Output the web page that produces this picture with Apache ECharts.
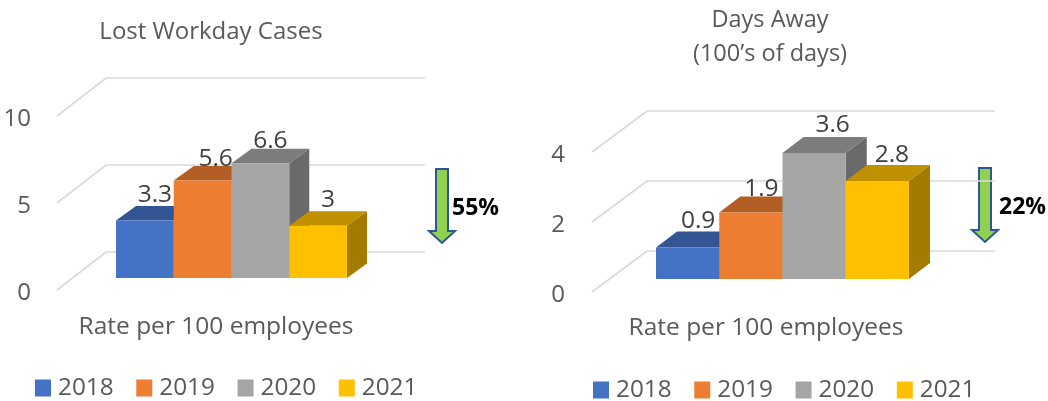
<!DOCTYPE html>
<html>
<head>
<meta charset="utf-8">
<script src="https://cdn.jsdelivr.net/npm/echarts@6/dist/echarts.min.js"></script>
<style>
  html, body { margin: 0; padding: 0; background: #fff; }
  #main { width: 1048px; height: 401px; }
</style>
</head>
<body>
<div id="main"></div>
<script type="text/javascript">
var years = ['2018', '2019', '2020', '2021'];
var lostCases = [3.3, 5.6, 6.6, 3];
var daysAway = [0.9, 1.9, 3.6, 2.8];
var lostTicks = [0, 5, 10];
var awayTicks = [0, 2, 4];

var font = '"Open Sans", sans-serif';
var front = ['#4472C4', '#ED7D31', '#A5A5A5', '#FFC000'];
var topFace = ['#335593', '#B25E25', '#7C7C7C', '#BF9000'];
var sideFace = ['#2B4A7F', '#985021', '#6A6A6A', '#A37B00'];

var series = [];

// back wall lines, slanted from the value axis then running along the back
function addWall(idx, ticks, s) {
    series.push({
        name: 'gridlines',
        type: 'custom',
        xAxisIndex: idx,
        yAxisIndex: idx,
        silent: true,
        data: ticks.map(function (t) { return [0, t]; }),
        renderItem: function (params, api) {
            var y = api.coord([0, api.value(1)])[1] - s.wallLift;
            return {
                type: 'polyline',
                shape: { points: [[s.wallX0, y], [s.wallX1, y - s.wallRise], [s.wallX2, y - s.wallRise]] },
                style: { fill: 'none', stroke: '#D9D9D9', lineWidth: 1.6 }
            };
        }
    });
}

// one fake-3d box per year
function addBars(idx, values, s) {
    values.forEach(function (v, i) {
        series.push({
            name: years[i],
            type: 'custom',
            xAxisIndex: idx,
            yAxisIndex: idx,
            itemStyle: { color: front[i] },
            data: [[i, v]],
            renderItem: function (params, api) {
                var c = api.coord([api.value(0), api.value(1)]);
                var w = api.size([1, 0])[0];
                var l = c[0] - w / 2, r = c[0] + w / 2;
                var t = c[1] - s.lift;
                var b = api.coord([api.value(0), 0])[1] - s.lift;
                var dx = s.depthX, dy = s.depthY;
                return {
                    type: 'group',
                    children: [
                        { type: 'polygon', shape: { points: [[r, t], [r + dx, t - dy], [r + dx, b - dy], [r, b]] }, style: { fill: sideFace[i] } },
                        { type: 'polygon', shape: { points: [[l, t], [l + dx, t - dy], [r + dx, t - dy], [r, t]] }, style: { fill: topFace[i] } },
                        { type: 'rect', shape: { x: l, y: t, width: w, height: b - t }, style: { fill: front[i] } },
                        {
                            type: 'text',
                            z2: 10,
                            style: {
                                x: c[0] + dx / 2 + s.nudge[i][0],
                                y: t - dy + s.nudge[i][1],
                                text: String(api.value(1)),
                                textAlign: 'center',
                                textVerticalAlign: 'middle',
                                fill: '#404040',
                                font: '24.5px ' + font
                            }
                        }
                    ]
                };
            }
        });
    });
}

// grids sit a little low so the tick labels line up, wallLift puts the lines back
var leftShape = {
    wallX0: 57, wallX1: 106, wallX2: 425, wallRise: 38, wallLift: 3,
    lift: 15, depthX: 20, depthY: 14.5,
    nudge: [[0, -11], [3, -7], [0, -8], [0, -11]]
};
var rightShape = {
    wallX0: 592, wallX1: 647, wallX2: 995, wallRise: 41, wallLift: 3,
    lift: 16, depthX: 21, depthY: 16,
    nudge: [[0, -10], [0, -7], [8, -12], [4, -10]]
};

addWall(0, lostTicks, leftShape);
addBars(0, lostCases, leftShape);
addWall(1, awayTicks, rightShape);
addBars(1, daysAway, rightShape);

function axisX(idx) {
    return {
        type: 'category',
        gridIndex: idx,
        data: years,
        axisLine: { show: false },
        axisTick: { show: false },
        axisLabel: { show: false }
    };
}

function axisY(idx, ticks, margin) {
    return {
        type: 'value',
        gridIndex: idx,
        min: ticks[0],
        max: ticks[ticks.length - 1],
        interval: ticks[1] - ticks[0],
        splitLine: { show: false },
        axisLine: { show: false },
        axisTick: { show: false },
        axisLabel: { margin: margin, color: '#595959', fontFamily: font, fontSize: 24 }
    };
}

function caption(text, x, y, size) {
    return {
        text: text,
        left: x,
        top: y,
        padding: 0,
        textAlign: 'center',
        textStyle: { color: '#595959', fontFamily: font, fontWeight: 'normal', fontSize: size, lineHeight: 34 }
    };
}

function legendAt(x, y) {
    return {
        left: x,
        top: y,
        data: years,
        icon: 'rect',
        itemWidth: 16,
        itemHeight: 17,
        itemGap: 22.7,
        padding: 0,
        selectedMode: false,
        textStyle: { color: '#595959', fontFamily: font, fontSize: 24.3, padding: [0, 0, 0, 2] }
    };
}

// the down arrow and its percentage next to each chart
function arrow(x, y, pct, pctX, pctY) {
    return [
        {
            type: 'polygon',
            shape: { points: [[x - 6, y], [x + 6, y], [x + 6, y + 62], [x + 13, y + 62], [x, y + 74], [x - 13, y + 62], [x - 6, y + 62]] },
            style: { fill: '#92D050', stroke: '#2F5597', lineWidth: 2 }
        },
        {
            type: 'text',
            style: {
                x: pctX,
                y: pctY,
                text: pct,
                textVerticalAlign: 'middle',
                fill: '#000',
                font: 'bold 23px ' + font
            }
        }
    ];
}

var myChart = echarts.init(document.getElementById('main'));
myChart.setOption({
    animation: false,
    backgroundColor: '#fff',
    title: [
        caption('Lost Workday Cases', 211, 15, 24),
        caption('Days Away\n(100\u2019s of days)', 770, 3, 23.5),
        caption('Rate per 100 employees', 216, 310, 24.5),
        caption('Rate per 100 employees', 766, 311, 24.5)
    ],
    legend: [legendAt(35, 376), legendAt(593, 378)],
    grid: [
        { left: 116, top: 119, width: 231, height: 174 },
        { left: 656, top: 155, width: 253, height: 140 }
    ],
    xAxis: [axisX(0), axisX(1)],
    yAxis: [axisY(0, lostTicks, 85), axisY(1, awayTicks, 91)],
    series: series,
    graphic: arrow(442, 169, '55%', 452, 208).concat(arrow(985, 168, '22%', 999, 207))
});
</script>
</body>
</html>
